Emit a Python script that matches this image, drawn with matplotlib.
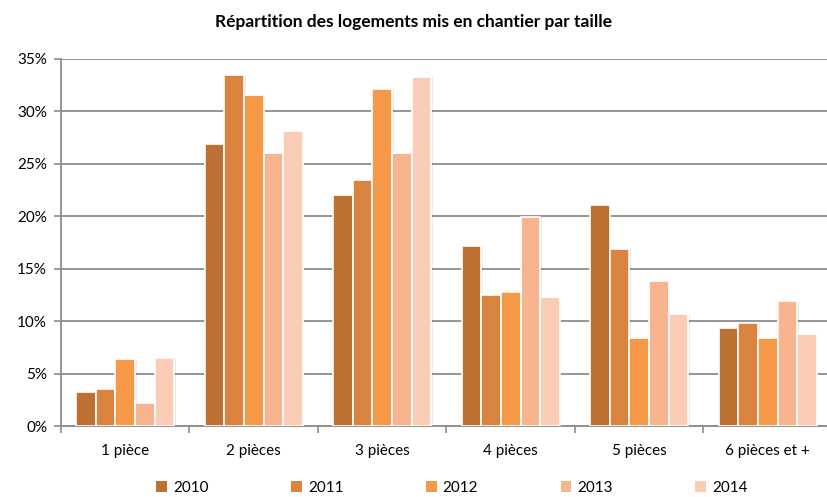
import numpy as np
import matplotlib.pyplot as plt
from matplotlib.ticker import FuncFormatter, MultipleLocator
from matplotlib.patches import Patch

plt.rcParams['font.family'] = ['Lato', 'DejaVu Sans']

categories = ['1 pièce', '2 pièces', '3 pièces', '4 pièces', '5 pièces', '6 pièces et +']
years = ['2010', '2011', '2012', '2013', '2014']
v2010 = [3.2, 26.9, 22.0, 17.2, 21.1, 9.3]
v2011 = [3.5, 33.5, 23.5, 12.5, 16.9, 9.8]
v2012 = [6.4, 31.6, 32.1, 12.8, 8.4, 8.4]
v2013 = [2.2, 26.0, 26.0, 19.9, 13.8, 11.9]
v2014 = [6.5, 28.1, 33.3, 12.3, 10.7, 8.8]
series = [v2010, v2011, v2012, v2013, v2014]
colors = ['#BC7032', '#DA833E', '#F59847', '#F8B48E', '#FBCDB5']

fig = plt.figure(figsize=(8.28, 4.97), dpi=100)
ax = fig.add_axes([61 / 828, 71 / 497, 771 / 828, 367 / 497])

x = np.arange(len(categories))
w = 0.152
for i, (vals, c) in enumerate(zip(series, colors)):
    xpos = x + (i - 2) * w
    # soft shadow behind each bar
    ax.bar(xpos + 0.012, vals, width=w, color='#000000', alpha=0.08,
           edgecolor='none', zorder=2)
    ax.bar(xpos, vals, width=w, color=c, edgecolor='white', linewidth=1.2,
           zorder=3, label=years[i])

ax.set_xlim(-0.5, len(categories) - 0.5)
ax.set_ylim(0, 35)
ax.yaxis.set_major_locator(MultipleLocator(5))
ax.yaxis.set_major_formatter(FuncFormatter(lambda v, p: f'{v:.0f}%'))
ax.grid(axis='y', color='#8C8C8C', linewidth=1.3, zorder=0)
ax.set_axisbelow(True)

# category boundary ticks on the x axis
ax.set_xticks(np.arange(-0.5, len(categories), 1.0))
ax.set_xticklabels([])
ax.set_xticks(x, minor=True)
ax.set_xticklabels(categories, minor=True, fontsize=11)
ax.tick_params(axis='x', which='minor', length=0, pad=13)
ax.tick_params(axis='x', which='major', length=5, color='#8C8C8C', width=1.2)
ax.tick_params(axis='y', length=5, color='#8C8C8C', width=1.2, labelsize=11, pad=5)

for s in ['top', 'right']:
    ax.spines[s].set_visible(False)
for s in ['left', 'bottom']:
    ax.spines[s].set_color('#8C8C8C')
    ax.spines[s].set_linewidth(1.3)

fig.suptitle('Répartition des logements mis en chantier par taille',
             x=414 / 828, y=1 - 22 / 497, fontsize=12.5, fontweight='bold',
             va='center')

handles = [Patch(facecolor=c, edgecolor='none') for c in colors]
fig.legend(handles, years, loc='center', bbox_to_anchor=(452 / 828, 1 - 488 / 497),
           ncol=5, frameon=False, fontsize=11, handlelength=0.7, handleheight=0.7,
           handletextpad=0.4, columnspacing=5.4, borderpad=0)

fig.savefig('out.png', dpi=100)
